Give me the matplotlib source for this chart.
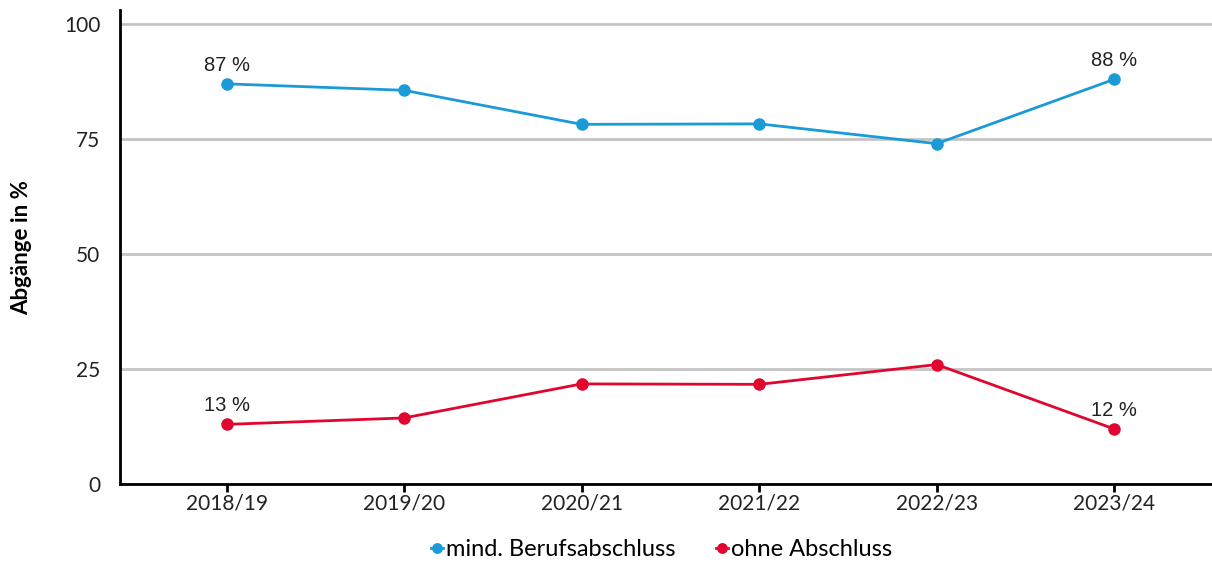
import matplotlib
matplotlib.use("Agg")
import matplotlib.pyplot as plt

# data
jahre = ['2018/19', '2019/20', '2020/21', '2021/22', '2022/23', '2023/24']
mit_abschluss = [87.0, 85.6, 78.2, 78.3, 74.0, 88.0]
ohne_abschluss = [13.0, 14.4, 21.8, 21.7, 26.0, 12.0]
yticks = [0, 25, 50, 75, 100]

BLAU = '#1a9bd7'
ROT = '#e0062f'

plt.rcParams['font.family'] = ['Lato', 'DejaVu Sans']

fig = plt.figure(figsize=(12.12, 5.67), dpi=100)
ax = fig.add_axes([0.099, 0.146, 0.901, 0.836])

x = list(range(len(jahre)))
ax.plot(x, mit_abschluss, color=BLAU, lw=2, marker='o', ms=8,
        label='mind. Berufsabschluss', zorder=3)
ax.plot(x, ohne_abschluss, color=ROT, lw=2, marker='o', ms=8,
        label='ohne Abschluss', zorder=3)

# Beschriftung erster und letzter Wert
for i in (0, len(jahre) - 1):
    for werte in (mit_abschluss, ohne_abschluss):
        ax.annotate('{:.0f} %'.format(werte[i]), (x[i], werte[i]),
                    xytext=(0, 6.5), textcoords='offset points',
                    ha='center', va='bottom', fontsize=14.5,
                    family='Liberation Sans', color='#222222')

ax.set_xlim(-0.6, 5.55)
ax.set_ylim(0, 103)
ax.set_xticks(x)
ax.set_xticklabels(jahre, fontsize=15, color='#222222')
ax.set_yticks(yticks)
ax.set_yticklabels([str(v) for v in yticks], fontsize=15, color='#222222')
ax.tick_params(axis='y', length=0, pad=14)
ax.tick_params(axis='x', length=6, width=2, pad=1)

ax.grid(axis='y', color='#c4c4c4', lw=2)
ax.set_axisbelow(True)
for s in ('top', 'right'):
    ax.spines[s].set_visible(False)
ax.spines['left'].set_linewidth(2)
ax.spines['bottom'].set_linewidth(2)

ax.set_ylabel('Abgänge in %', fontsize=16, fontweight='bold', labelpad=23)

fig.legend(loc='center', bbox_to_anchor=(0.546, 0.031), ncol=2, frameon=False,
           fontsize=17, handlelength=0.5, handletextpad=0.15, columnspacing=1.7,
           markerscale=0.85)

fig.savefig('out.png', dpi=100)
